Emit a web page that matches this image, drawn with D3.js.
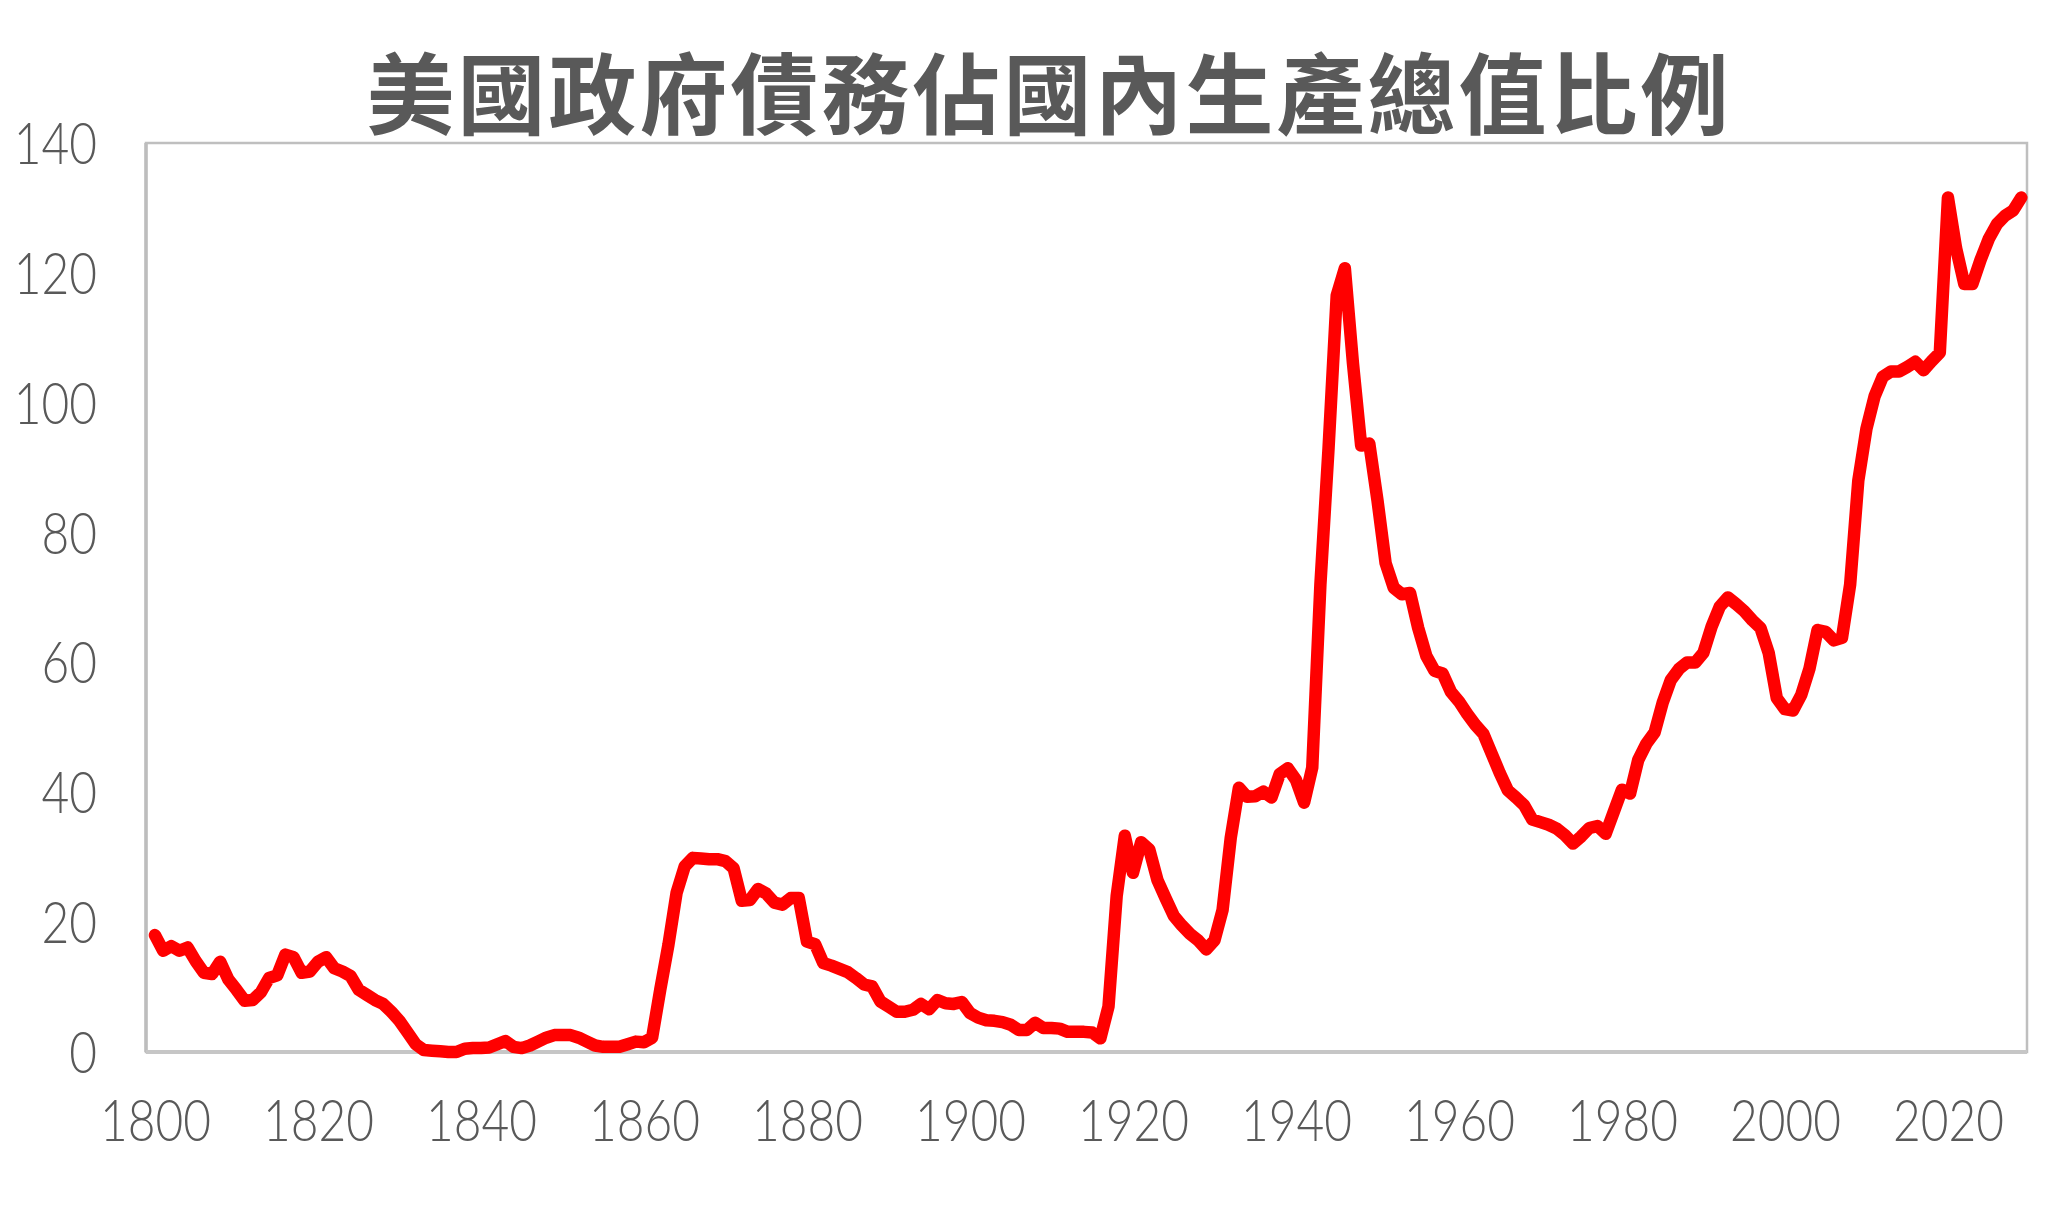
<!DOCTYPE html>
<html>
<head>
<meta charset="utf-8">
<script src="https://cdn.jsdelivr.net/npm/d3@7"></script>
<style>
  html, body { margin: 0; padding: 0; background: #ffffff; }
  svg { display: block; }
</style>
</head>
<body>
<svg id="chart" width="2068" height="1231"></svg>
<script>
// ---- Data ----
const titleText = "美國政府債務佔國內生產總值比例";

const years = d3.range(1800, 2030);

const debtRatio = [
  // 1800-1809
  18.0, 15.6, 16.3, 15.6, 16.1, 14.0, 12.2, 12.0, 13.9, 11.2,
  // 1810-1819
  9.6, 7.9, 8.0, 9.2, 11.4, 11.8, 15.0, 14.6, 12.2, 12.4,
  // 1820-1829
  13.9, 14.6, 12.9, 12.4, 11.7, 9.6, 8.8, 8.0, 7.4, 6.2,
  // 1830-1839
  4.8, 3.0, 1.2, 0.3, 0.2, 0.1, 0.0, 0.0, 0.5, 0.6,
  // 1840-1849
  0.6, 0.7, 1.2, 1.7, 0.8, 0.6, 1.0, 1.6, 2.2, 2.6,
  // 1850-1859
  2.6, 2.6, 2.2, 1.6, 1.0, 0.8, 0.8, 0.8, 1.2, 1.6,
  // 1860-1869
  1.5, 2.2, 9.6, 16.5, 24.5, 28.6, 29.9, 29.8, 29.7, 29.7,
  // 1870-1879
  29.4, 28.3, 23.3, 23.4, 25.1, 24.4, 23.0, 22.7, 23.7, 23.7,
  // 1880-1889
  17.0, 16.6, 13.7, 13.3, 12.8, 12.3, 11.4, 10.4, 10.1, 7.8,
  // 1890-1899
  7.0, 6.2, 6.2, 6.5, 7.4, 6.6, 8.0, 7.5, 7.4, 7.7,
  // 1900-1909
  6.0, 5.3, 4.9, 4.8, 4.6, 4.2, 3.4, 3.4, 4.5, 3.7,
  // 1910-1919
  3.7, 3.6, 3.1, 3.1, 3.1, 3.0, 2.1, 7.0, 24.0, 33.3,
  // 1920-1929
  27.6, 32.3, 31.2, 26.5, 23.7, 21.0, 19.5, 18.2, 17.2, 15.8,
  // 1930-1939
  17.2, 21.9, 33.0, 40.7, 39.3, 39.4, 40.1, 39.2, 42.8, 43.7,
  // 1940-1949
  41.9, 38.4, 43.8, 72.0, 93.0, 116.5, 120.7, 106.0, 93.4, 93.7,
  // 1950-1959
  85.0, 75.3, 71.5, 70.5, 70.7, 65.3, 61.0, 58.7, 58.3, 55.5,
  // 1960-1969
  54.0, 52.1, 50.4, 49.0, 46.0, 43.0, 40.3, 39.2, 38.0, 35.8,
  // 1970-1979
  35.4, 35.0, 34.4, 33.4, 32.1, 33.2, 34.5, 34.8, 33.6, 37.0,
  // 1980-1989
  40.4, 39.8, 45.0, 47.5, 49.2, 53.8, 57.3, 59.0, 60.0, 60.0,
  // 1990-1999
  61.5, 65.5, 68.6, 70.0, 69.0, 67.9, 66.5, 65.3, 61.5, 54.5,
  // 2000-2009
  52.8, 52.6, 55.0, 59.0, 65.0, 64.7, 63.4, 63.8, 72.0, 88.0,
  // 2010-2019
  96.0, 101.0, 104.0, 104.8, 104.8, 105.5, 106.3, 105.0, 106.4, 107.7,
  // 2020-2029
  131.6, 123.8, 118.3, 118.3, 122.0, 125.2, 127.5, 128.8, 129.6, 131.6
];

const yTicks = [0, 20, 40, 60, 80, 100, 120, 140];
const xTicks = [1800, 1820, 1840, 1860, 1880, 1900, 1920, 1940, 1960, 1980, 2000, 2020];

// ---- Layout ----
const plot = { left: 146, right: 2027, top: 143, bottom: 1052 };

const svg = d3.select("#chart");

const x = d3.scaleLinear()
  .domain([1798.9, 2029.7])
  .range([plot.left, plot.right]);

const y = d3.scaleLinear()
  .domain([0, 140])
  .range([plot.bottom, plot.top]);

// Title
svg.append("text")
  .attr("x", 1049)
  .attr("y", 127)
  .attr("text-anchor", "middle")
  .attr("font-family", "'Noto Sans CJK TC', 'Noto Sans CJK SC', sans-serif")
  .attr("font-weight", 700)
  .attr("font-size", 88)
  .attr("letter-spacing", 3)
  .attr("fill", "#595959")
  .text(titleText);

// Plot frame
svg.append("rect")
  .attr("x", plot.left)
  .attr("y", plot.top)
  .attr("width", plot.right - plot.left)
  .attr("height", plot.bottom - plot.top)
  .attr("fill", "none")
  .attr("stroke", "#bfbfbf")
  .attr("stroke-width", 2.5);

svg.append("line")
  .attr("x1", plot.left).attr("x2", plot.left)
  .attr("y1", plot.top).attr("y2", plot.bottom)
  .attr("stroke", "#bdbdbd").attr("stroke-width", 3.5);
svg.append("line")
  .attr("x1", plot.left).attr("x2", plot.right)
  .attr("y1", plot.bottom).attr("y2", plot.bottom)
  .attr("stroke", "#c6c6c6").attr("stroke-width", 4);

const labelFont = "Lato, 'DejaVu Sans', sans-serif";

// Y axis
const yAxis = d3.axisLeft(y)
  .tickValues(yTicks)
  .tickSize(0)
  .tickPadding(0)
  .tickFormat(d3.format("d"));

const gy = svg.append("g")
  .attr("transform", "translate(97,0)")
  .call(yAxis);
gy.select(".domain").remove();
gy.selectAll("text")
  .attr("x", 0)
  .attr("dy", "0.36em")
  .attr("transform", "scale(0.84,1)")
  .attr("font-family", labelFont)
  .attr("font-weight", 300)
  .attr("font-size", 57)
  .attr("fill", "#595959");

// X axis
const xAxis = d3.axisBottom(x)
  .tickValues(xTicks)
  .tickSize(0)
  .tickPadding(0)
  .tickFormat(d3.format("d"));

const gx = svg.append("g")
  .attr("transform", "translate(0,1120)")
  .call(xAxis);
gx.select(".domain").remove();
gx.selectAll("text")
  .attr("y", 0)
  .attr("dy", "0.36em")
  .attr("transform", "scale(0.84,1)")
  .attr("font-family", labelFont)
  .attr("font-weight", 300)
  .attr("font-size", 57)
  .attr("fill", "#595959");

// Line
const data = years.map((yr, i) => ({ year: yr, value: debtRatio[i] }));

const line = d3.line()
  .x(d => x(d.year))
  .y(d => y(d.value));

svg.append("path")
  .datum(data)
  .attr("d", line)
  .attr("fill", "none")
  .attr("stroke", "#ff0000")
  .attr("stroke-width", 12.5)
  .attr("stroke-linejoin", "round")
  .attr("stroke-linecap", "round");
</script>
</body>
</html>
